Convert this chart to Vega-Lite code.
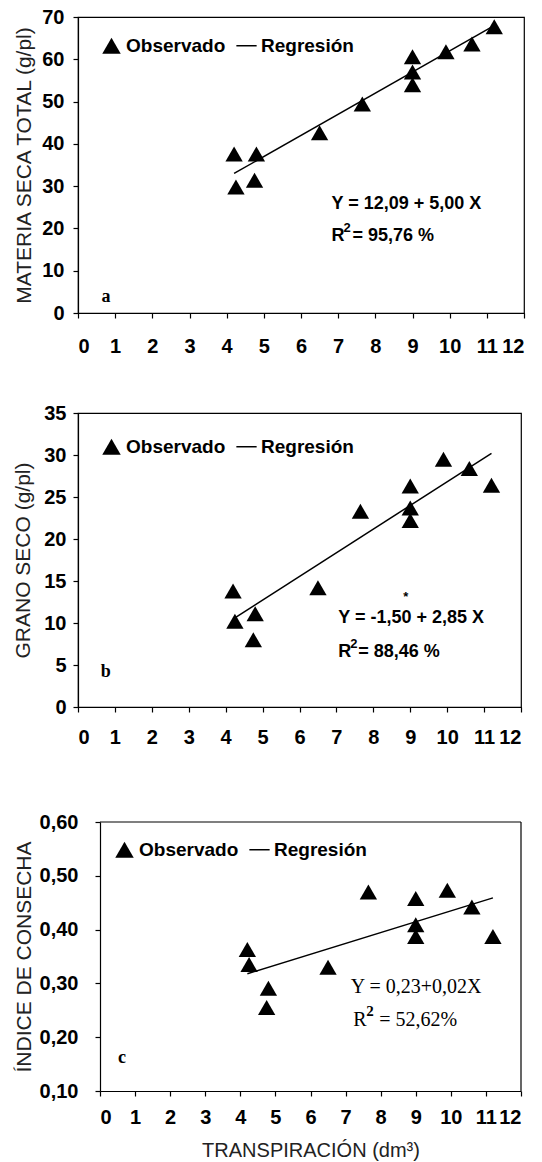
{
  "$schema": "https://vega.github.io/schema/vega-lite/v6.json",
  "background": "white",
  "padding": {"left": 12, "top": 6, "right": 4, "bottom": 4},
  "spacing": 45,
  "resolve": {"scale": {"shape": "independent"}, "legend": {"shape": "independent"}},
  "config": {
    "view": {"stroke": "black", "strokeWidth": 1.2},
    "axis": {
      "grid": false, "domainColor": "black", "domainWidth": 1.2, "tickColor": "black", "tickWidth": 1.2, "tickSize": 5,
      "labelOverlap": false,
      "labelFont": "Liberation Sans", "labelFontWeight": "bold", "labelFontSize": 20, "labelColor": "black",
      "titleFont": "Liberation Sans", "titleFontWeight": "normal", "titleFontSize": 21, "titleColor": "#222"
    },
    "legend": {
      "direction": "horizontal", "title": null, "padding": 0,
      "labelFont": "Liberation Sans", "labelFontWeight": "bold", "labelFontSize": 19, "labelColor": "black",
      "symbolSize": 340, "columnPadding": 10, "labelOffset": 5,
      "symbolFillColor": "black", "symbolStrokeColor": "black", "symbolStrokeWidth": 0, "symbolOpacity": 1
    }
  },
  "datasets": {
    "obs_a": [
      {"transpiracion": 4.2, "materia_seca": 37.6, "serie": "Observado"},
      {"transpiracion": 4.25, "materia_seca": 29.8, "serie": "Observado"},
      {"transpiracion": 4.8, "materia_seca": 37.6, "serie": "Observado"},
      {"transpiracion": 4.75, "materia_seca": 31.4, "serie": "Observado"},
      {"transpiracion": 6.5, "materia_seca": 42.6, "serie": "Observado"},
      {"transpiracion": 7.65, "materia_seca": 49.4, "serie": "Observado"},
      {"transpiracion": 9.0, "materia_seca": 60.6, "serie": "Observado"},
      {"transpiracion": 9.0, "materia_seca": 57.0, "serie": "Observado"},
      {"transpiracion": 9.0, "materia_seca": 54.0, "serie": "Observado"},
      {"transpiracion": 9.9, "materia_seca": 61.8, "serie": "Observado"},
      {"transpiracion": 10.6, "materia_seca": 63.6, "serie": "Observado"},
      {"transpiracion": 11.2, "materia_seca": 67.7, "serie": "Observado"}
    ],
    "fit_a": [
      {"transpiracion": 4.2, "materia_seca": 33.0},
      {"transpiracion": 11.1, "materia_seca": 67.5}
    ],
    "obs_b": [
      {"transpiracion": 4.2, "grano_seco": 13.8, "serie": "Observado"},
      {"transpiracion": 4.25, "grano_seco": 10.2, "serie": "Observado"},
      {"transpiracion": 4.8, "grano_seco": 11.1, "serie": "Observado"},
      {"transpiracion": 4.75, "grano_seco": 8.0, "serie": "Observado"},
      {"transpiracion": 6.5, "grano_seco": 14.2, "serie": "Observado"},
      {"transpiracion": 7.65, "grano_seco": 23.3, "serie": "Observado"},
      {"transpiracion": 9.0, "grano_seco": 26.3, "serie": "Observado"},
      {"transpiracion": 9.0, "grano_seco": 23.7, "serie": "Observado"},
      {"transpiracion": 9.0, "grano_seco": 22.2, "serie": "Observado"},
      {"transpiracion": 9.9, "grano_seco": 29.5, "serie": "Observado"},
      {"transpiracion": 10.6, "grano_seco": 28.4, "serie": "Observado"},
      {"transpiracion": 11.2, "grano_seco": 26.4, "serie": "Observado"}
    ],
    "fit_b": [
      {"transpiracion": 4.25, "grano_seco": 10.6},
      {"transpiracion": 11.2, "grano_seco": 30.2}
    ],
    "obs_c": [
      {"transpiracion": 4.2, "indice_cosecha": 0.363, "serie": "Observado"},
      {"transpiracion": 4.25, "indice_cosecha": 0.335, "serie": "Observado"},
      {"transpiracion": 4.8, "indice_cosecha": 0.291, "serie": "Observado"},
      {"transpiracion": 4.75, "indice_cosecha": 0.255, "serie": "Observado"},
      {"transpiracion": 6.5, "indice_cosecha": 0.33, "serie": "Observado"},
      {"transpiracion": 7.65, "indice_cosecha": 0.47, "serie": "Observado"},
      {"transpiracion": 9.0, "indice_cosecha": 0.458, "serie": "Observado"},
      {"transpiracion": 9.0, "indice_cosecha": 0.409, "serie": "Observado"},
      {"transpiracion": 9.0, "indice_cosecha": 0.387, "serie": "Observado"},
      {"transpiracion": 9.9, "indice_cosecha": 0.473, "serie": "Observado"},
      {"transpiracion": 10.6, "indice_cosecha": 0.442, "serie": "Observado"},
      {"transpiracion": 11.2, "indice_cosecha": 0.387, "serie": "Observado"}
    ],
    "fit_c": [
      {"transpiracion": 4.2, "indice_cosecha": 0.318},
      {"transpiracion": 11.2, "indice_cosecha": 0.459}
    ]
  },
  "vconcat": [
    {
      "width": 446, "height": 296,
      "layer": [
        {
          "data": {"name": "fit_a"},
          "mark": {"type": "line", "color": "black", "strokeWidth": 1.5},
          "encoding": {
            "x": {"field": "transpiracion", "type": "quantitative", "scale": {"domain": [0, 12], "nice": false},
                  "axis": {"title": null, "values": [0,1,2,3,4,5,6,7,8,9,10,11,12], "labelOverlap": false, "labelPadding": 18}},
            "y": {"field": "materia_seca", "type": "quantitative", "scale": {"domain": [0, 70], "nice": false},
                  "axis": {"title": "MATERIA SECA TOTAL (g/pl)", "values": [0,10,20,30,40,50,60,70], "labelOverlap": false, "labelPadding": 9, "titlePadding": 7}}
          }
        },
        {
          "data": {"name": "obs_a"},
          "mark": {"type": "point", "filled": true, "color": "black", "opacity": 1, "size": 300},
          "encoding": {
            "x": {"field": "transpiracion", "type": "quantitative",
                  "axis": {"title": null, "values": [0,1,2,3,4,5,6,7,8,9,10,11,12], "labelOverlap": false, "labelPadding": 18}},
            "y": {"field": "materia_seca", "type": "quantitative",
                  "axis": {"title": "MATERIA SECA TOTAL (g/pl)", "values": [0,10,20,30,40,50,60,70], "labelOverlap": false, "labelPadding": 9, "titlePadding": 7}},
            "shape": {"field": "serie", "type": "nominal",
              "scale": {"domain": ["Observado", "Regresión"], "range": ["triangle-up", "M-1.1,-0.08L1.1,-0.08L1.1,0.08L-1.1,0.08Z"]},
              "legend": {"orient": "none", "legendX": 24, "legendY": 19}}
          }
        },
        {
          "data": {"values": [{"texto": "Y = 12,09 + 5,00 X", "tipo": "eq"}]},
          "mark": {"type": "text", "align": "left", "baseline": "middle", "font": "Liberation Sans", "fontWeight": "bold", "fontSize": 18, "color": "black"},
          "encoding": {
            "text": {"field": "texto"},
            "x": {"datum": 6.82, "axis": {"title": null, "values": [0,1,2,3,4,5,6,7,8,9,10,11,12], "labelOverlap": false, "labelPadding": 18}},
            "y": {"datum": 25.8, "axis": {"title": "MATERIA SECA TOTAL (g/pl)", "values": [0,10,20,30,40,50,60,70], "labelOverlap": false, "labelPadding": 9, "titlePadding": 7}}
          }
        },
        {
          "data": {"values": [{}]},
          "mark": {"type": "text", "text": "R", "align": "left", "baseline": "middle", "font": "Liberation Sans", "fontWeight": "bold", "fontSize": 18, "color": "black"},
          "encoding": {
            "x": {"datum": 6.82, "axis": {"title": null, "values": [0,1,2,3,4,5,6,7,8,9,10,11,12], "labelOverlap": false, "labelPadding": 18}},
            "y": {"datum": 18.3}
          }
        },
        {
          "data": {"values": [{}]},
          "mark": {"type": "text", "text": "2", "align": "left", "baseline": "middle", "dx": 12, "dy": -8, "font": "Liberation Sans", "fontWeight": "bold", "fontSize": 13, "color": "black"},
          "encoding": {
            "x": {"datum": 6.82, "axis": {"title": null, "values": [0,1,2,3,4,5,6,7,8,9,10,11,12], "labelOverlap": false, "labelPadding": 18}},
            "y": {"datum": 18.3}
          }
        },
        {
          "data": {"values": [{}]},
          "mark": {"type": "text", "text": "= 95,76 %", "align": "left", "baseline": "middle", "dx": 21, "font": "Liberation Sans", "fontWeight": "bold", "fontSize": 18, "color": "black"},
          "encoding": {
            "x": {"datum": 6.82, "axis": {"title": null, "values": [0,1,2,3,4,5,6,7,8,9,10,11,12], "labelOverlap": false, "labelPadding": 18}},
            "y": {"datum": 18.3}
          }
        },
        {
          "data": {"values": [{}]},
          "mark": {"type": "text", "text": "a", "align": "center", "baseline": "middle", "font": "Liberation Serif", "fontWeight": "bold", "fontSize": 18, "color": "black"},
          "encoding": {
            "x": {"datum": 0.75, "axis": {"title": null, "values": [0,1,2,3,4,5,6,7,8,9,10,11,12], "labelOverlap": false, "labelPadding": 18}},
            "y": {"datum": 3.8}
          }
        }
      ]
    },
    {
      "width": 443, "height": 294,
      "layer": [
        {
          "data": {"name": "fit_b"},
          "mark": {"type": "line", "color": "black", "strokeWidth": 1.5},
          "encoding": {
            "x": {"field": "transpiracion", "type": "quantitative", "scale": {"domain": [0, 12], "nice": false},
                  "axis": {"title": null, "values": [0,1,2,3,4,5,6,7,8,9,10,11,12], "labelOverlap": false, "labelPadding": 15}},
            "y": {"field": "grano_seco", "type": "quantitative", "scale": {"domain": [0, 35], "nice": false},
                  "axis": {"title": "GRANO SECO (g/pl)", "values": [0,5,10,15,20,25,30,35], "labelOverlap": false, "labelPadding": 7, "titlePadding": 10}}
          }
        },
        {
          "data": {"name": "obs_b"},
          "mark": {"type": "point", "filled": true, "color": "black", "opacity": 1, "size": 300},
          "encoding": {
            "x": {"field": "transpiracion", "type": "quantitative",
                  "axis": {"title": null, "values": [0,1,2,3,4,5,6,7,8,9,10,11,12], "labelOverlap": false, "labelPadding": 15}},
            "y": {"field": "grano_seco", "type": "quantitative"},
            "shape": {"field": "serie", "type": "nominal",
              "scale": {"domain": ["Observado", "Regresión"], "range": ["triangle-up", "M-1.1,-0.08L1.1,-0.08L1.1,0.08L-1.1,0.08Z"]},
              "legend": {"orient": "none", "legendX": 24, "legendY": 24}}
          }
        },
        {
          "data": {"values": [{}]},
          "mark": {"type": "text", "text": "Y = -1,50 + 2,85 X", "align": "left", "baseline": "middle", "font": "Liberation Sans", "fontWeight": "bold", "fontSize": 18, "color": "black"},
          "encoding": {
            "x": {"datum": 7.05, "axis": {"title": null, "values": [0,1,2,3,4,5,6,7,8,9,10,11,12], "labelOverlap": false, "labelPadding": 15}},
            "y": {"datum": 10.6}
          }
        },
        {
          "data": {"values": [{}]},
          "mark": {"type": "text", "text": "*", "align": "center", "baseline": "middle", "font": "Liberation Sans", "fontWeight": "bold", "fontSize": 13, "color": "black"},
          "encoding": {
            "x": {"datum": 8.88, "axis": {"title": null, "values": [0,1,2,3,4,5,6,7,8,9,10,11,12], "labelOverlap": false, "labelPadding": 15}},
            "y": {"datum": 13.1}
          }
        },
        {
          "data": {"values": [{}]},
          "mark": {"type": "text", "text": "R", "align": "left", "baseline": "middle", "font": "Liberation Sans", "fontWeight": "bold", "fontSize": 18, "color": "black"},
          "encoding": {
            "x": {"datum": 7.05, "axis": {"title": null, "values": [0,1,2,3,4,5,6,7,8,9,10,11,12], "labelOverlap": false, "labelPadding": 15}},
            "y": {"datum": 6.5}
          }
        },
        {
          "data": {"values": [{}]},
          "mark": {"type": "text", "text": "2", "align": "left", "baseline": "middle", "dx": 12, "dy": -8, "font": "Liberation Sans", "fontWeight": "bold", "fontSize": 13, "color": "black"},
          "encoding": {
            "x": {"datum": 7.05, "axis": {"title": null, "values": [0,1,2,3,4,5,6,7,8,9,10,11,12], "labelOverlap": false, "labelPadding": 15}},
            "y": {"datum": 6.5}
          }
        },
        {
          "data": {"values": [{}]},
          "mark": {"type": "text", "text": "= 88,46 %", "align": "left", "baseline": "middle", "dx": 20, "font": "Liberation Sans", "fontWeight": "bold", "fontSize": 18, "color": "black"},
          "encoding": {
            "x": {"datum": 7.05, "axis": {"title": null, "values": [0,1,2,3,4,5,6,7,8,9,10,11,12], "labelOverlap": false, "labelPadding": 15}},
            "y": {"datum": 6.5}
          }
        },
        {
          "data": {"values": [{}]},
          "mark": {"type": "text", "text": "b", "align": "center", "baseline": "middle", "font": "Liberation Serif", "fontWeight": "bold", "fontSize": 18, "color": "black"},
          "encoding": {
            "x": {"datum": 0.75, "axis": {"title": null, "values": [0,1,2,3,4,5,6,7,8,9,10,11,12], "labelOverlap": false, "labelPadding": 15}},
            "y": {"datum": 4.2}
          }
        }
      ]
    },
    {
      "width": 443, "height": 269,
      "view": {"stroke": null},
      "title": {"text": " ", "fontSize": 13, "offset": 6},
      "layer": [
        {
          "data": {"name": "fit_c"},
          "mark": {"type": "line", "color": "black", "strokeWidth": 1.5},
          "encoding": {
            "x": {"field": "transpiracion", "type": "quantitative", "scale": {"domain": [0, 12], "nice": false, "range": [22, 443]},
                  "axis": {"title": "TRANSPIRACIÓN (dm³)", "titleFontSize": 20, "values": [0,1,2,3,4,5,6,7,8,9,10,11,12], "labelOverlap": false, "labelPadding": 11, "titlePadding": 13}},
            "y": {"field": "indice_cosecha", "type": "quantitative", "scale": {"domain": [0.1, 0.6], "nice": false},
                  "axis": {"title": "ÍNDICE DE CONSECHA", "offset": -22, "values": [0.1,0.2,0.3,0.4,0.5,0.6], "labelOverlap": false, "labelExpr": "replace(format(datum.value, '.2f'), '.', ',')", "labelPadding": 17, "titlePadding": 5}}
          }
        },
        {
          "data": {"values": [{}]},
          "mark": {"type": "rule", "color": "black", "strokeWidth": 1.2},
          "encoding": {
            "x": {"datum": 0, "axis": {"title": "TRANSPIRACIÓN (dm³)", "titleFontSize": 20, "values": [0,1,2,3,4,5,6,7,8,9,10,11,12], "labelOverlap": false, "labelPadding": 11, "titlePadding": 13}},
            "x2": {"datum": 12}, "y": {"datum": 0.6}
          }
        },
        {
          "data": {"values": [{}]},
          "mark": {"type": "rule", "color": "black", "strokeWidth": 1.2},
          "encoding": {
            "x": {"datum": 12, "axis": {"title": "TRANSPIRACIÓN (dm³)", "titleFontSize": 20, "values": [0,1,2,3,4,5,6,7,8,9,10,11,12], "labelOverlap": false, "labelPadding": 11, "titlePadding": 13}},
            "y": {"datum": 0.1}, "y2": {"datum": 0.6}
          }
        },
        {
          "data": {"name": "obs_c"},
          "mark": {"type": "point", "filled": true, "color": "black", "opacity": 1, "size": 300},
          "encoding": {
            "x": {"field": "transpiracion", "type": "quantitative",
                  "axis": {"title": "TRANSPIRACIÓN (dm³)", "titleFontSize": 20, "values": [0,1,2,3,4,5,6,7,8,9,10,11,12], "labelOverlap": false, "labelPadding": 11, "titlePadding": 13}},
            "y": {"field": "indice_cosecha", "type": "quantitative"},
            "shape": {"field": "serie", "type": "nominal",
              "scale": {"domain": ["Observado", "Regresión"], "range": ["triangle-up", "M-1.1,-0.08L1.1,-0.08L1.1,0.08L-1.1,0.08Z"]},
              "legend": {"orient": "none", "legendX": 37, "legendY": 18}}
          }
        },
        {
          "data": {"values": [{}]},
          "mark": {"type": "text", "text": "Y = 0,23+0,02X", "align": "left", "baseline": "middle", "font": "Liberation Serif", "fontWeight": "normal", "fontSize": 20, "color": "black"},
          "encoding": {
            "x": {"datum": 7.15, "axis": {"title": "TRANSPIRACIÓN (dm³)", "titleFontSize": 20, "values": [0,1,2,3,4,5,6,7,8,9,10,11,12], "labelOverlap": false, "labelPadding": 11, "titlePadding": 13}},
            "y": {"datum": 0.293}
          }
        },
        {
          "data": {"values": [{}]},
          "mark": {"type": "text", "text": "R", "align": "left", "baseline": "middle", "font": "Liberation Serif", "fontWeight": "normal", "fontSize": 20, "color": "black"},
          "encoding": {
            "x": {"datum": 7.22, "axis": {"title": "TRANSPIRACIÓN (dm³)", "titleFontSize": 20, "values": [0,1,2,3,4,5,6,7,8,9,10,11,12], "labelOverlap": false, "labelPadding": 11, "titlePadding": 13}},
            "y": {"datum": 0.232}
          }
        },
        {
          "data": {"values": [{}]},
          "mark": {"type": "text", "text": "2", "align": "left", "baseline": "middle", "dx": 13, "dy": -9, "font": "Liberation Serif", "fontWeight": "bold", "fontSize": 15, "color": "black"},
          "encoding": {
            "x": {"datum": 7.22, "axis": {"title": "TRANSPIRACIÓN (dm³)", "titleFontSize": 20, "values": [0,1,2,3,4,5,6,7,8,9,10,11,12], "labelOverlap": false, "labelPadding": 11, "titlePadding": 13}},
            "y": {"datum": 0.232}
          }
        },
        {
          "data": {"values": [{}]},
          "mark": {"type": "text", "text": "= 52,62%", "align": "left", "baseline": "middle", "dx": 26, "font": "Liberation Serif", "fontWeight": "normal", "fontSize": 20, "color": "black"},
          "encoding": {
            "x": {"datum": 7.22, "axis": {"title": "TRANSPIRACIÓN (dm³)", "titleFontSize": 20, "values": [0,1,2,3,4,5,6,7,8,9,10,11,12], "labelOverlap": false, "labelPadding": 11, "titlePadding": 13}},
            "y": {"datum": 0.232}
          }
        },
        {
          "data": {"values": [{}]},
          "mark": {"type": "text", "text": "c", "align": "center", "baseline": "middle", "font": "Liberation Serif", "fontWeight": "bold", "fontSize": 18, "color": "black"},
          "encoding": {
            "x": {"datum": 0.63, "axis": {"title": "TRANSPIRACIÓN (dm³)", "titleFontSize": 20, "values": [0,1,2,3,4,5,6,7,8,9,10,11,12], "labelOverlap": false, "labelPadding": 11, "titlePadding": 13}},
            "y": {"datum": 0.162}
          }
        }
      ]
    }
  ]
}
